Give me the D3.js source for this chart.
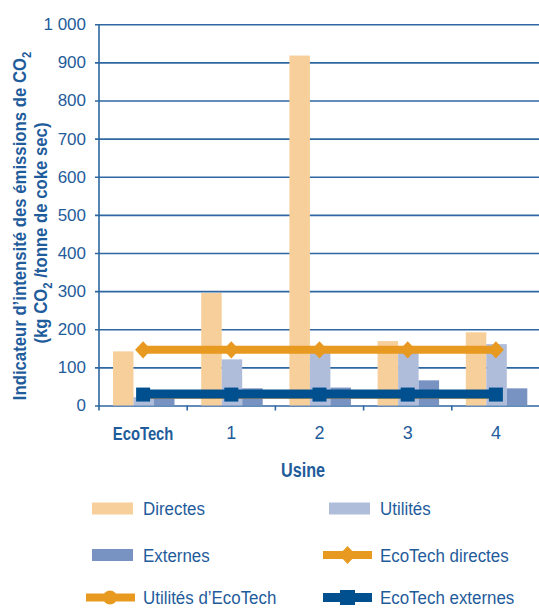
<!DOCTYPE html>
<html><head><meta charset="utf-8">
<script src="https://cdn.jsdelivr.net/npm/d3@7"></script>
<style>
body{margin:0;background:#fff;}
svg{display:block;}
</style></head>
<body>
<svg id="c" width="539" height="608"></svg>
<script>
const categories = ["EcoTech", "1", "2", "3", "4"];
const directes = [142, 295, 918, 169, 192];
const utilites = [22, 121, 140, 142, 161];
const externes = [30, 45, 47, 66, 45];
const ecotechDirectes = [146, 146, 146, 146, 146];
const utilitesEcotech = [28, 28, 28, 28, 28];
const ecotechExternes = [30, 30, 30, 30, 30];
const yTickValues = [0, 100, 200, 300, 400, 500, 600, 700, 800, 900, 1000];
const yTickLabels = ["0", "100", "200", "300", "400", "500", "600", "700", "800", "900", "1 000"];
const barSeries = ["Directes", "Utilités", "Externes"];

const TEXT = "#1F5C9B";
const GRID = "#2E67A1";
const C_DIR = "#F7CF9B", C_UTI = "#AFBDDB", C_EXT = "#7892C1";
const C_ORANGE = "#E8991F", C_NAVY = "#00508F";
const SANS = "'Liberation Sans',Arial,sans-serif";

const svg = d3.select("#c").style("font-family", SANS);
const y = d3.scaleLinear().domain([0, 1000]).range([405.5, 24.3]);
const x0 = d3.scaleBand().domain(categories).range([99, 540]);
const x1 = d3.scaleBand().domain(barSeries).range([14, 75.5]);
const colors = {"Directes": C_DIR, "Utilités": C_UTI, "Externes": C_EXT};
const seriesVals = {"Directes": directes, "Utilités": utilites, "Externes": externes};

// Y axis with gridlines
const yAxis = d3.axisLeft(y).tickValues(yTickValues)
  .tickFormat((d, i) => yTickLabels[i])
  .tickSizeInner(-(540 - 95)).tickSizeOuter(0).tickPadding(9);
const gy = svg.append("g").attr("transform", "translate(95,0)").call(yAxis);
gy.select(".domain").remove();
gy.selectAll(".tick line").attr("stroke", GRID).attr("stroke-width", 1.6);
gy.selectAll(".tick text").attr("fill", TEXT).style("font-family", SANS).style("font-size", "17px");

// vertical axis line
svg.append("line").attr("x1", 99).attr("x2", 99).attr("y1", y(1000)).attr("y2", y(0) + 1)
  .attr("stroke", GRID).attr("stroke-width", 1.6);

// category boundary ticks
svg.append("g").selectAll("line").data(categories).join("line")
  .attr("x1", d => x0(d)).attr("x2", d => x0(d))
  .attr("y1", y(0)).attr("y2", y(0) + 5)
  .attr("stroke", GRID).attr("stroke-width", 1.6);

// bars
const gBars = svg.append("g");
categories.forEach((c, i) => {
  barSeries.forEach(s => {
    const v = seriesVals[s][i];
    gBars.append("rect")
      .attr("x", x0(c) + x1(s)).attr("width", x1.bandwidth())
      .attr("y", y(v)).attr("height", y(0) - y(v))
      .attr("fill", colors[s]);
  });
});

const cx = c => x0(c) + x0.bandwidth() / 2;

function drawLine(vals, color, width) {
  svg.append("path")
    .datum(categories.map((c, i) => [cx(c), y(vals[i])]))
    .attr("d", d3.line())
    .attr("fill", "none").attr("stroke", color).attr("stroke-width", width);
}

// Utilités d'EcoTech (hidden under externes)
drawLine(utilitesEcotech, C_ORANGE, 8);
svg.append("g").selectAll("circle").data(categories).join("circle")
  .attr("cx", d => cx(d)).attr("cy", (d, i) => y(utilitesEcotech[i])).attr("r", 6)
  .attr("fill", C_ORANGE);

// EcoTech directes
drawLine(ecotechDirectes, C_ORANGE, 8);
svg.append("g").selectAll("path").data(categories).join("path")
  .attr("d", d3.symbol(d3.symbolDiamond2, 165))
  .attr("transform", (d, i) => `translate(${cx(d)},${y(ecotechDirectes[i])}) scale(1,1.07)`)
  .attr("fill", C_ORANGE);

// EcoTech externes
drawLine(ecotechExternes, C_NAVY, 9);
svg.append("g").selectAll("rect").data(categories).join("rect")
  .attr("x", d => cx(d) - 7).attr("y", (d, i) => y(ecotechExternes[i]) - 6.5)
  .attr("width", 14).attr("height", 14)
  .attr("fill", C_NAVY);

// X axis labels
const xAxis = d3.axisBottom(x0).tickSize(0).tickPadding(21);
const gx = svg.append("g").attr("transform", `translate(0,${y(0)})`).call(xAxis);
gx.select(".domain").remove();
gx.selectAll(".tick text").attr("fill", TEXT)
  .style("font-family", SANS)
  .style("font-weight", d => d === "EcoTech" ? "bold" : "normal")
  .style("font-size", d => d === "EcoTech" ? "19px" : "18px")
  .attr("transform", d => d === "EcoTech" ? "scale(0.78,1)" : null);

// X title
svg.append("text").attr("transform", "translate(303,477) scale(0.81,1)").attr("text-anchor", "middle")
  .attr("fill", TEXT).style("font-weight", "bold").style("font-size", "20px")
  .text("Usine");

// Y title
const yt = svg.append("text").attr("transform", "translate(26,226) rotate(-90) scale(0.93,1)")
  .attr("text-anchor", "middle").attr("fill", TEXT)
  .style("font-weight", "bold").style("font-size", "18px");
yt.append("tspan").text("Indicateur d’intensité des émissions de CO");
yt.append("tspan").attr("dy", 5).style("font-size", "12px").text("2");
const yt2 = svg.append("text").attr("transform", "translate(47,233) rotate(-90) scale(0.93,1)")
  .attr("text-anchor", "middle").attr("fill", TEXT)
  .style("font-weight", "bold").style("font-size", "18px");
yt2.append("tspan").text("(kg CO");
yt2.append("tspan").attr("dy", 5).style("font-size", "12px").text("2");
yt2.append("tspan").attr("dy", -5).text(" /tonne de coke sec)");

// Legend
const legendItems = [
  {name: "Directes", type: "bar", color: C_DIR},
  {name: "Utilités", type: "bar", color: C_UTI},
  {name: "Externes", type: "bar", color: C_EXT},
  {name: "EcoTech directes", type: "diamond", color: C_ORANGE},
  {name: "Utilités d’EcoTech", type: "circle", color: C_ORANGE},
  {name: "EcoTech externes", type: "square", color: C_NAVY}
];
const rowsY = [508.5, 555, 597.5];
const colX = [86, 323];
legendItems.forEach((it, i) => {
  const row = Math.floor(i / 2), col = i % 2;
  const g = svg.append("g").attr("transform", `translate(${colX[col]},${rowsY[row]})`);
  if (it.type === "bar") {
    g.append("rect").attr("x", 6).attr("y", -6).attr("width", 41).attr("height", 12).attr("fill", it.color);
  } else {
    g.append("line").attr("x1", 0).attr("x2", 49).attr("y1", 0).attr("y2", 0)
      .attr("stroke", it.color).attr("stroke-width", it.type === "square" ? 9 : 8);
    if (it.type === "diamond") {
      g.append("path").attr("d", d3.symbol(d3.symbolDiamond2, 185)).attr("transform", "translate(24.5,0) scale(1,1.07)").attr("fill", it.color);
    } else if (it.type === "circle") {
      g.append("circle").attr("cx", 24).attr("cy", 0).attr("r", 7).attr("fill", it.color);
    } else {
      g.append("rect").attr("x", 17).attr("y", -7.5).attr("width", 15).attr("height", 15).attr("fill", it.color);
    }
  }
  g.append("text").attr("transform", "translate(57,6.5) scale(0.89,1)").attr("fill", TEXT)
    .style("font-size", "19px").text(it.name);
});
</script>
</body></html>
